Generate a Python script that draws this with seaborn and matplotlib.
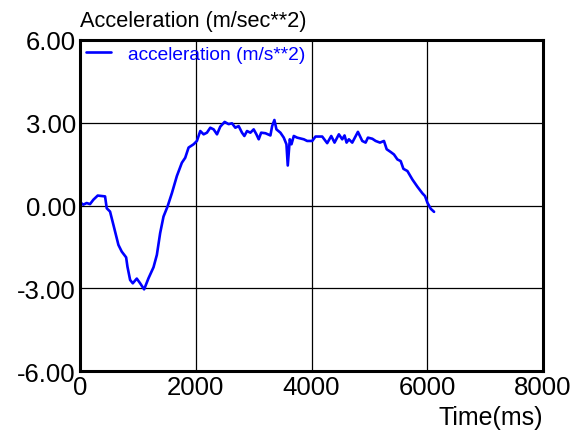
import numpy as np
import pandas as pd
import matplotlib
matplotlib.use("Agg")
import matplotlib.pyplot as plt
import seaborn as sns

# time (ms) and acceleration (m/s**2)
time_ms = [0, 57, 115, 173, 231, 306, 433, 462, 519, 577, 664, 721, 797, 820,
           866, 912, 981, 1039, 1108, 1183, 1270, 1328, 1385, 1443, 1512, 1588,
           1674, 1760, 1818, 1876, 1963, 2020, 2078, 2136, 2193, 2251, 2309,
           2367, 2424, 2499, 2568, 2626, 2684, 2741, 2799, 2840, 2886, 2944,
           3001, 3048, 3088, 3130, 3204, 3290, 3320, 3359, 3394, 3463, 3521,
           3567, 3590, 3625, 3654, 3694, 3752, 3867, 3925, 4012, 4069, 4185,
           4271, 4341, 4398, 4473, 4531, 4571, 4606, 4646, 4704, 4802, 4877,
           4935, 4975, 5051, 5108, 5183, 5252, 5299, 5368, 5425, 5484, 5541,
           5588, 5657, 5744, 5830, 5917, 5962, 6003, 6061, 6118]
accel = [0.12, 0.03, 0.09, 0.05, 0.21, 0.36, 0.33, -0.10, -0.22, -0.70, -1.43,
         -1.67, -1.88, -2.22, -2.70, -2.82, -2.65, -2.82, -3.04, -2.64, -2.24,
         -1.79, -1.00, -0.40, -0.04, 0.45, 1.07, 1.55, 1.73, 2.10, 2.22, 2.34,
         2.70, 2.58, 2.64, 2.82, 2.76, 2.58, 2.86, 3.03, 2.95, 2.98, 2.82, 2.88,
         2.64, 2.52, 2.70, 2.64, 2.76, 2.58, 2.40, 2.64, 2.62, 2.54, 2.88, 3.10,
         2.76, 2.64, 2.46, 2.22, 1.45, 2.40, 2.22, 2.52, 2.46, 2.40, 2.34, 2.34,
         2.50, 2.50, 2.26, 2.52, 2.28, 2.58, 2.40, 2.54, 2.28, 2.40, 2.28, 2.67,
         2.34, 2.28, 2.46, 2.42, 2.34, 2.28, 2.34, 2.04, 1.94, 1.85, 1.67, 1.61,
         1.33, 1.25, 0.94, 0.68, 0.44, 0.34, 0.10, -0.12, -0.23]

x_ticks = [0, 2000, 4000, 6000, 8000]
y_ticks = [-6, -3, 0, 3, 6]

df = pd.DataFrame({"Time(ms)": time_ms, "acceleration (m/s**2)": accel})

sns.set_style("white")
plt.rcParams["font.family"] = ["Liberation Sans", "DejaVu Sans"]
plt.rcParams["text.color"] = "black"
plt.rcParams["axes.labelcolor"] = "black"

fig = plt.figure(figsize=(5.87, 4.39), dpi=100)
ax = fig.add_axes([80 / 587, 1 - 372 / 439, (543 - 80) / 587, (372 - 41) / 439])

sns.lineplot(data=df, x="Time(ms)", y="acceleration (m/s**2)", ax=ax,
             color="#0000ff", linewidth=1.9, label="acceleration (m/s**2)")

ax.set_xlim(0, 8000)
ax.set_ylim(-6, 6)
ax.set_xticks(x_ticks)
ax.set_yticks(y_ticks)
ax.set_yticklabels([f"{v:.2f}" for v in y_ticks])
ax.tick_params(length=0, labelsize=18.5, colors="black", pad=3)
ax.grid(True, color="black", linewidth=0.9)
for s in ax.spines.values():
    s.set_color("black")
    s.set_linewidth(2.2)

ax.set_xlabel("Time(ms)", fontsize=18, loc="right", labelpad=4, color="black")
ax.set_ylabel("")
ax.set_title("Acceleration (m/sec**2)", fontsize=15.7, loc="left", pad=10,
             color="black")

leg = ax.legend(loc="upper left", frameon=False, fontsize=13.8,
                handlelength=1.3, borderaxespad=0.1, borderpad=0.2,
                handletextpad=0.9)
for txt in leg.get_texts():
    txt.set_color("#0000ff")

fig.savefig("out.png", dpi=100)
